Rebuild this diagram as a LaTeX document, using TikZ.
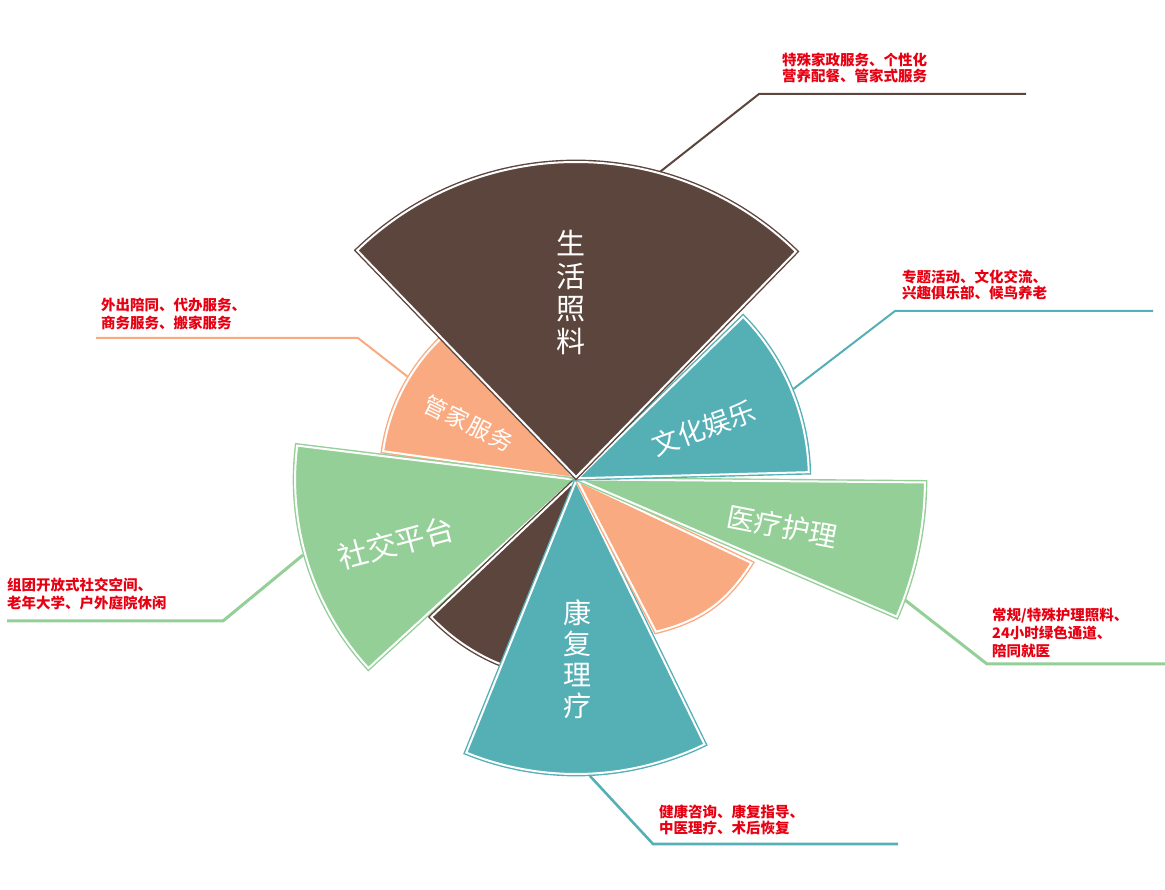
\documentclass[tikz,border=0pt]{standalone}
\usepackage{fontspec}
\newfontfamily\cjk{Noto Sans CJK SC}
\definecolor{cbrown}{RGB}{92,69,61}
\definecolor{cteal}{RGB}{85,176,182}
\definecolor{cgreen}{RGB}{148,207,152}
\definecolor{corange}{RGB}{250,170,128}
\definecolor{cred}{RGB}{230,0,18}
\newcommand{\secdraw}[5]{%
  \draw[sec=#2] (C) ++({(#3+#4)/2}:2) coordinate (#1) -- ++(#3:#5)
    arc[start angle=#3, end angle=#4, radius=#5] -- cycle;}
\begin{document}
\begin{tikzpicture}[x=1pt,y=1pt,
  sec/.style={fill=#1, draw=#1, line width=1.4pt, double=white, double distance=2pt, line join=miter},
  lead/.style={draw=#1, line width=2pt},
  ann/.style={anchor=north west, inner sep=0pt, align=left, text=cred},
  lab/.style={inner sep=0pt, text=white, align=center}]
\useasboundingbox (0,0) rectangle (1165,890);
\coordinate (C) at (576,411);

% leader lines
\coordinate (s1) at (656,715); \coordinate (k1) at (759,796); \coordinate (e1) at (1026,796);
\draw[lead=cbrown] (s1) -- (k1) -- (e1);
\coordinate (s2) at (792,500); \coordinate (k2) at (895,579); \coordinate (e2) at (1153,579);
\draw[lead=cteal] (s2) -- (k2) -- (e2);
\coordinate (s3) at (408,513); \coordinate (k3) at (358,552); \coordinate (e3) at (96,552);
\draw[lead=corange] (s3) -- (k3) -- (e3);
\coordinate (s4) at (303,335); \coordinate (k4) at (223,269); \coordinate (e4) at (7,269);
\draw[lead=cgreen, line width=3pt] (s4) -- (k4) -- (e4);
\coordinate (s5) at (905,290); \coordinate (k5) at (987,226); \coordinate (e5) at (1165,226);
\draw[lead=cgreen, line width=3pt] (s5) -- (k5) -- (e5);
\coordinate (s6) at (590,114); \coordinate (k6) at (653,46); \coordinate (e6) at (898,46);
\draw[lead=cteal, line width=2.6pt] (s6) -- (k6) -- (e6);

% sectors
\secdraw{aol}{corange}{131}{172}{193}
\secdraw{agl}{cgreen}{173}{222.5}{279}
\secdraw{abb}{cbrown}{223.5}{250}{198}
\secdraw{atb}{cteal}{248}{296}{293}
\draw[sec=corange] (C) ++(-44:2) coordinate (aor) -- (751.5,327) to[bend left=22] (656,258.3) -- cycle;
\secdraw{agr}{cgreen}{-23.3}{-0.5}{347}
\secdraw{atr}{cteal}{1.5}{44.3}{231}
\secdraw{abt}{cbrown}{45.7}{134}{315}

% sector labels
\node[lab, font=\cjk\fontsize{29}{32.5}\selectfont] (l1) at (571,597.5) {生\\活\\照\\料};
\node[lab, font=\cjk\fontsize{28}{31}\selectfont] (l2) at (577,231) {康\\复\\理\\疗};
\node[lab, rotate=20, font=\cjk\fontsize{27}{30}\selectfont] (l3) at (704,462) {文化娱乐};
\node[lab, rotate=-11, font=\cjk\fontsize{28}{30}\selectfont] (l4) at (782.5,363.5) {医疗护理};
\node[lab, rotate=15, font=\cjk\fontsize{30}{32}\selectfont] (l5) at (396,347) {社交平台};
\node[lab, rotate=-26, font=\cjk\fontsize{23}{28}\selectfont] (l6) at (468.5,466.5) {管\kern1.5pt 家\kern1.5pt 服\kern1.5pt 务};

% annotations
\node[ann, font=\cjk\bfseries\fontsize{14.5}{16}\selectfont] (t1) at (782,837.3) {特殊家政服务、个性化\\营养配餐、管家式服务};
\node[ann, font=\cjk\bfseries\fontsize{14.5}{16}\selectfont] (t2) at (902,620.3) {专题活动、文化交流、\\兴趣俱乐部、候鸟养老};
\node[ann, font=\cjk\bfseries\fontsize{14.5}{18}\selectfont] (t3) at (101,592.3) {外出陪同、代办服务、\\商务服务、搬家服务};
\node[ann, font=\cjk\bfseries\fontsize{14.5}{18}\selectfont] (t4) at (7,312.3) {组团开放式社交空间、\\老年大学、户外庭院休闲};
\node[ann, font=\cjk\bfseries\fontsize{14.5}{18}\selectfont] (t5) at (992,282.3) {常规/特殊护理照料、\\24小时绿色通道、\\陪同就医};
\node[ann, font=\cjk\bfseries\fontsize{14.5}{16}\selectfont] (t6) at (659,85.3) {健康咨询、康复指导、\\中医理疗、术后恢复};
\end{tikzpicture}
\end{document}
